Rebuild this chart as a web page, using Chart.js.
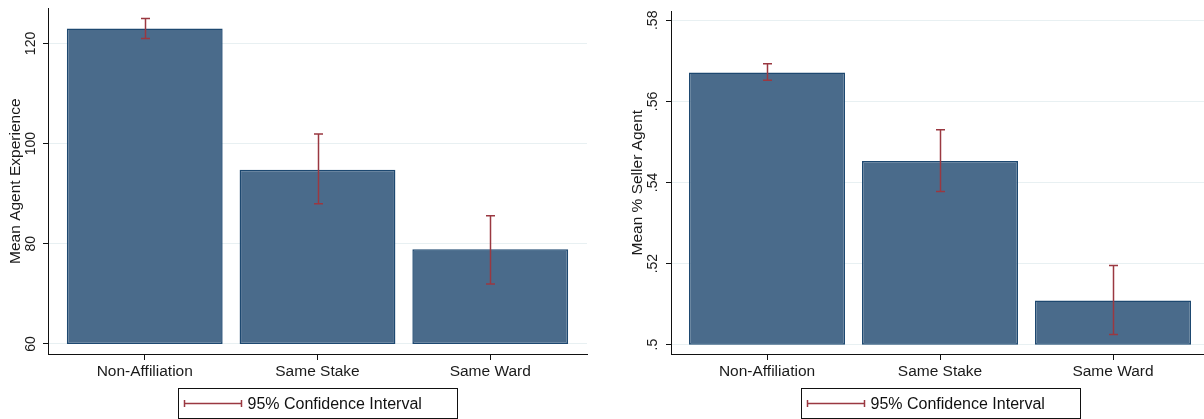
<!DOCTYPE html>
<html>
<head>
<meta charset="utf-8">
<script src="https://cdn.jsdelivr.net/npm/chart.js@4/dist/chart.umd.min.js"></script>
<style>
  body { margin: 0; background: #fff; }
  #wrap { position: relative; width: 1204px; height: 419px; }
  .panel { position: absolute; top: 0; }
</style>
</head>
<body>
<div id="wrap">
  <canvas id="exp_chart" class="panel" style="left:0" width="600" height="419"></canvas>
  <canvas id="seller_chart" class="panel" style="left:600px" width="604" height="419"></canvas>
</div>
<script>
// data
var categories = ['Non-Affiliation', 'Same Stake', 'Same Ward'];

var expBase = 60;
var expMeans = [123.0, 94.8, 78.9];
var expLow = [121.0, 88.0, 72.0];
var expHigh = [125.0, 101.9, 85.6];
var expTicks = [60, 80, 100, 120];
var expTickLabels = ['60', '80', '100', '120'];

var sellerBase = 0.5;
var sellerMeans = [0.5671, 0.5453, 0.5109];
var sellerLow = [0.5652, 0.5378, 0.5025];
var sellerHigh = [0.5693, 0.5530, 0.5195];
var sellerTicks = [0.50, 0.52, 0.54, 0.56, 0.58];
var sellerTickLabels = ['.5', '.52', '.54', '.56', '.58'];

var legendLabel = '95% Confidence Interval';

var FONT = "'Liberation Sans', Arial, Helvetica, sans-serif";
var BAR_FILL = '#4a6b8b';
var BAR_EDGE = '#1d4870';
var CI_COLOR = '#9a3841';

// error bars, drawn on top of the bars
var ciPlugin = {
  id: 'ciBars',
  afterDatasetsDraw: function(chart, args, opts) {
    var ctx = chart.ctx;
    var meta = chart.getDatasetMeta(0);
    var yScale = chart.scales.y;
    ctx.save();
    ctx.strokeStyle = CI_COLOR;
    ctx.lineWidth = 1.5;
    meta.data.forEach(function(bar, i) {
      var x = Math.round(bar.x) + 0.5;
      var yTop = yScale.getPixelForValue(opts.high[i]);
      var yBot = yScale.getPixelForValue(opts.low[i]);
      ctx.beginPath();
      ctx.moveTo(x, yTop); ctx.lineTo(x, yBot);
      ctx.moveTo(x - 4.5, yTop); ctx.lineTo(x + 4.5, yTop);
      ctx.moveTo(x - 4.5, yBot); ctx.lineTo(x + 4.5, yBot);
      ctx.stroke();
    });
    ctx.restore();
  }
};

// boxed legend under the plot, centred on the middle category
var ciLegend = {
  id: 'ciLegend',
  afterDraw: function(chart) {
    var ctx = chart.ctx;
    var cx = chart.scales.x.getPixelForValue(1);
    var w = 279, h = 30;
    var left = Math.round(cx - w / 2) + 0.5;
    var top = 388.5;
    var mid = top + h / 2;
    ctx.save();
    ctx.strokeStyle = '#111';
    ctx.lineWidth = 1;
    ctx.strokeRect(left, top, w, h);
    ctx.strokeStyle = CI_COLOR;
    ctx.lineWidth = 1.5;
    ctx.beginPath();
    ctx.moveTo(left + 6, mid); ctx.lineTo(left + 63, mid);
    ctx.moveTo(left + 6, mid - 3.5); ctx.lineTo(left + 6, mid + 3.5);
    ctx.moveTo(left + 63, mid - 3.5); ctx.lineTo(left + 63, mid + 3.5);
    ctx.stroke();
    ctx.fillStyle = '#111';
    ctx.font = '16px ' + FONT;
    ctx.textBaseline = 'middle';
    ctx.fillText(legendLabel, left + 69, mid + 1);
    ctx.restore();
  }
};

function makeChart(id, cfg) {
  return new Chart(document.getElementById(id), {
    type: 'bar',
    data: {
      datasets: [{
        data: cfg.means.map(function(v, i) { return { x: i, y: [cfg.base, v] }; }),
        backgroundColor: BAR_FILL,
        borderColor: BAR_EDGE,
        borderWidth: 1.5,
        borderSkipped: false,
        barPercentage: 0.902,
        categoryPercentage: 1
      }]
    },
    options: {
      responsive: false,
      animation: false,
      layout: { padding: { top: 8, right: cfg.padRight, bottom: 35, left: 0 } },
      plugins: {
        legend: { display: false },
        tooltip: { enabled: false },
        ciBars: { low: cfg.low, high: cfg.high }
      },
      scales: {
        x: {
          type: 'linear',
          offset: false,
          min: cfg.xMin,
          max: cfg.xMax,
          afterBuildTicks: function(axis) {
            axis.ticks = categories.map(function(c, i) { return { value: i }; });
          },
          afterFit: function(axis) { axis.height = 30; },
          ticks: {
            callback: function(v) { return categories[v]; },
            font: { family: FONT, size: 15.5 },
            color: '#1a1a1a',
            maxRotation: 0,
            padding: 2
          },
          grid: { offset: false, drawOnChartArea: false, tickLength: 6, tickColor: '#111' },
          border: { color: '#111', width: 1 }
        },
        y: {
          min: cfg.min,
          max: cfg.max,
          afterBuildTicks: function(axis) {
            axis.ticks = cfg.ticks.map(function(v) { return { value: v }; });
          },
          afterFit: function(axis) { axis.width = cfg.axisWidth; },
          ticks: {
            callback: function(v, i) { return cfg.tickLabels[i]; },
            font: { family: FONT, size: 14 },
            color: '#1a1a1a',
            minRotation: 90,
            maxRotation: 90,
            crossAlign: 'center',
            padding: cfg.tickPad
          },
          grid: { color: '#e8f0f2', lineWidth: 1, tickLength: 5, tickColor: '#111' },
          border: { color: '#111', width: 1 },
          title: {
            display: true,
            text: cfg.title,
            font: { family: FONT, size: 15.5 },
            color: '#1a1a1a',
            padding: { top: cfg.titlePad, bottom: 0 }
          }
        }
      }
    },
    plugins: [ciPlugin, ciLegend]
  });
}

makeChart('exp_chart', {
  title: 'Mean Agent Experience',
  base: expBase, means: expMeans, low: expLow, high: expHigh,
  ticks: expTicks, tickLabels: expTickLabels,
  min: 58, max: 127, xMin: -0.56, xMax: 2.56,
  axisWidth: 48, tickPad: 0, titlePad: 6, padRight: 13
});

makeChart('seller_chart', {
  title: 'Mean % Seller Agent',
  base: sellerBase, means: sellerMeans, low: sellerLow, high: sellerHigh,
  ticks: sellerTicks, tickLabels: sellerTickLabels,
  min: 0.4977, max: 0.5822, xMin: -0.555, xMax: 2.526,
  axisWidth: 71, tickPad: 3, titlePad: 28, padRight: 0
});
</script>
</body>
</html>
